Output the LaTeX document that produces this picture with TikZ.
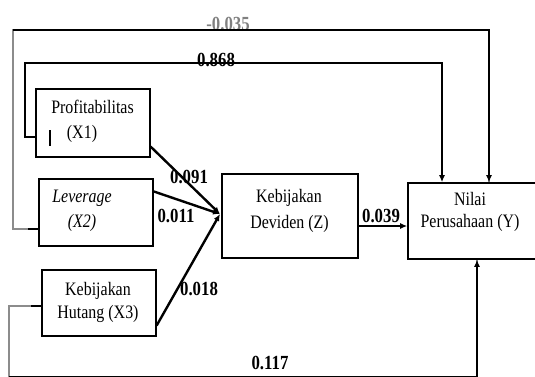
\documentclass[tikz,border=0pt]{standalone}
\usepackage{fontspec}
\setmainfont{Liberation Serif}[FakeStretch=0.84]
\usetikzlibrary{arrows.meta}
\begin{document}
\begin{tikzpicture}[x=1pt,y=-1pt,
  box/.style={draw,line width=1.2pt,inner sep=0},
  txt/.style={font=\fontsize{19}{22}\selectfont,anchor=base,inner sep=0},
  lbl/.style={font=\fontsize{20}{22}\selectfont\bfseries,anchor=base,inner sep=0},
  conn/.style={line width=2.4pt},
  faint/.style={line width=1.3pt,draw=black!45},
  tip/.style={-{Latex[length=7pt,width=6pt]}}]
\useasboundingbox (0,0) rectangle (535,376);
\clip (0,0) rectangle (535,376);
% boxes
\node[box,minimum width=114pt,minimum height=68pt] (x1) at (93,123) {};
\node[box,minimum width=114pt,minimum height=67pt] (x2) at (96,212.5) {};
\node[box,minimum width=114pt,minimum height=66pt] (x3) at (99,303) {};
\node[box,minimum width=136pt,minimum height=84pt] (z) at (290,216) {};
\node[box,line width=1.6pt,minimum width=132pt,minimum height=76pt] (y) at (474,221) {};
% texts
\node[txt] (t1a) at (92.5,113) {Profitabilitas};
\node[txt] (t1b) at (82,138) {(X1)};
\draw[line width=1.2pt] (50,130) -- (50,146);
\node[txt,font=\fontsize{19}{22}\selectfont\itshape] (t2a) at (82,202) {Leverage};
\node[txt,font=\fontsize{19}{22}\selectfont\itshape] (t2b) at (82,227) {(X2)};
\node[txt] (t3a) at (98,295) {Kebijakan};
\node[txt] (t3b) at (98,318) {Hutang (X3)};
\node[txt] (tza) at (289,202) {Kebijakan};
\node[txt] (tzb) at (289.5,228) {Deviden (Z)};
\node[txt] (tya) at (470,205) {Nilai};
\node[txt] (tyb) at (470,227) {Perusahaan (Y)};
% labels
\node[lbl,text=black!50] (l1) at (228,30) {-0.035};
\node[lbl] (l2) at (216,66) {0.868};
\node[lbl] (l3) at (189,183) {0.091};
\node[lbl] (l4) at (176,222) {0.011};
\node[lbl] (l5) at (199,295) {0.018};
\node[lbl] (l6) at (381,222) {0.039};
\node[lbl] (l7) at (270,369) {0.117};
% converging arrows into Z
\coordinate (m) at (220,214);
\draw[conn,tip] ([yshift=11pt]x1.south east) -- (m);
\draw[conn,tip] ([yshift=-13pt]x2.north east) -- (m);
\draw[conn,tip] ([yshift=11pt]x3.south east) -- (m);
% Z -> Y
\draw[conn,tip] ([yshift=-10pt]z.east) -- ([yshift=-10pt]z.east -| y.west);
% X1 -> Y (0.868)
\draw[conn,tip] ([yshift=-14pt]x1.west) -| (25,63) -| ([xshift=-32pt]y.north);
% X2 -> Y (-0.035)
\draw[faint] ([yshift=-16.5pt]x2.west) -| (13,30) -| ([xshift=15pt]y.north);
\draw[conn,line width=2pt,tip] (13,30) -| ([xshift=15pt]y.north);
\draw[conn,line width=2pt] ([yshift=-16.5pt]x2.west) -- ++(-10,0);
% X3 -> Y (0.117)
\draw[faint] ([yshift=-3pt]x3.west) -| (9,376.5) -| ([xshift=3pt]y.south);
\draw[conn,tip] (9,377) -| ([xshift=3pt]y.south);
\draw[conn,line width=2pt] ([yshift=-3pt]x3.west) -- ++(-10,0);
\end{tikzpicture}
\end{document}
